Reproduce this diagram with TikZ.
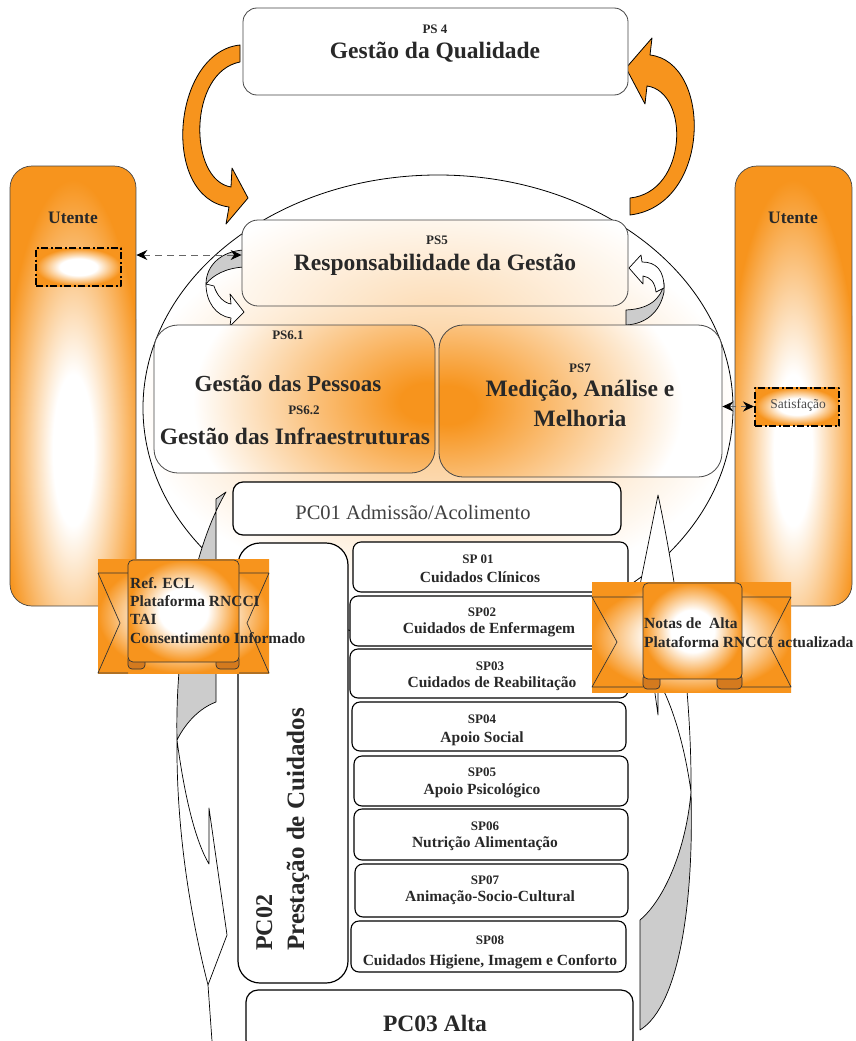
\documentclass[tikz,border=0pt]{standalone}
\usepackage{fontspec}
\setmainfont{Liberation Serif}
\usetikzlibrary{arrows.meta}
\definecolor{orng}{RGB}{247,148,29}
\definecolor{orngdk}{RGB}{212,122,30}
\definecolor{txt}{RGB}{40,40,40}
\definecolor{band}{RGB}{204,204,204}
\definecolor{edge}{RGB}{70,70,70}
\colorlet{orngsoft}{orng!60!white}
\colorlet{orngfaint}{orng!35!white}
% radial glows: the path outline sits at 25bp
\pgfdeclareradialshading{glowA}{\pgfpoint{0bp}{0bp}}{color(0bp)=(orng); color(3bp)=(orng); color(25bp)=(white); color(50bp)=(white)}
\pgfdeclareradialshading{glowB}{\pgfpoint{0bp}{0bp}}{color(0bp)=(orngsoft); color(25bp)=(white); color(50bp)=(white)}
\pgfdeclareradialshading{glowC}{\pgfpoint{0bp}{0bp}}{color(0bp)=(orngfaint); color(25bp)=(white); color(50bp)=(white)}
\pgfdeclareradialshading{core}{\pgfpoint{0bp}{0bp}}{color(0bp)=(white); color(7bp)=(white); color(25bp)=(orng); color(50bp)=(orng)}
\pgfdeclareradialshading{coreR}{\pgfpoint{0bp}{0bp}}{color(0bp)=(white); color(11bp)=(white); color(25bp)=(orng); color(50bp)=(orng)}
\newcommand\fsz[1]{\fontsize{#1}{#1}\selectfont}
\tikzset{
  lbl/.style={text=txt, inner sep=0pt},
  psbox/.style={draw=edge, line width=0.8pt, inner sep=0pt},
  pcbox/.style={draw=black, line width=1.2pt, fill=white, inner sep=0pt},
  spbox/.style={draw=black, line width=1.1pt, fill=white, rounded corners=8pt, inner sep=0pt},
  panel/.style={draw=edge, line width=0.7pt, rounded corners=22pt, inner sep=0pt},
  dashbox/.style={draw=black, line width=2pt, dash pattern=on 7pt off 2.5pt on 2pt off 2.5pt,
    shade, shading=coreR, inner sep=0pt},
  fatarrow/.style={fill=orng, draw=black, line width=0.8pt},
  curl/.style={draw=black, line width=0.7pt},
  dconn/.style={draw=gray!80!black, line width=1pt, dash pattern=on 7pt off 5pt,
    {Stealth[length=11pt,width=10pt,color=black]}-{Stealth[length=11pt,width=10pt,color=black]}},
  ribbon/.style={draw=black!80, line width=0.7pt},
  sptag/.style={lbl, font=\fsz{13}\bfseries},
  sptitle/.style={lbl, font=\fsz{15.5}\bfseries},
  bantext/.style={lbl, font=\fsz{15.5}\bfseries, anchor=west}
}
\begin{document}
\begin{tikzpicture}[x=1pt,y=-1pt,line join=round]
\useasboundingbox (0,0) rectangle (856,1041);
\fill[white] (0,0) rectangle (856,1041);

% central ellipse with its soft glow
\begin{scope}
  \clip (438,408) ellipse [x radius=295, y radius=233];
  \shade[shading=glowB] (437,405) ellipse [x radius=300, y radius=190];
\end{scope}
\draw[line width=0.8pt] (438,408) ellipse [x radius=295, y radius=233];

% orange loop arrows around PS4
\filldraw[fatarrow]
  (240,45) .. controls (172,52) and (160,198) .. (229,207)
  -- (226,224) -- (248,198) -- (232,168) -- (231,187)
  .. controls (188,180) and (188,72) .. (240,62) -- cycle;
\filldraw[fatarrow]
  (630,215) .. controls (712,205) and (712,62) .. (650,55)
  -- (652,38) -- (626,68) -- (645,104) -- (647,86)
  .. controls (690,92) and (688,192) .. (630,198) -- cycle;

% PS4
\node[psbox, rounded corners=14pt, fill=white, minimum width=385pt, minimum height=87pt] (ps4) at (435.5,51.5) {};
\node[lbl, font=\fsz{13}\bfseries] (ps4id) at (435,29) {PS 4};
\node[lbl, font=\fsz{23.5}\bfseries] (ps4t) at (435,52) {Gestão da Qualidade};

% small curled arrows beside PS5
\filldraw[curl, fill=band] (244,250) .. controls (222,251) and (206,265) .. (206,284)
  .. controls (213,275) and (226,268) .. (244,267) -- cycle;
\filldraw[curl, fill=white] (206,284) .. controls (206,302) and (216,316) .. (231,318)
  -- (230,326) -- (244,312) -- (230,294) -- (231,304)
  .. controls (224,303) and (217,296) .. (214,286) -- cycle;
\filldraw[curl, fill=band] (626,310) .. controls (648,309) and (661,300) .. (664,283)
  -- (664,292) .. controls (660,312) and (646,324) .. (626,325) -- cycle;
\filldraw[curl, fill=white] (664,288) .. controls (664,270) and (656,262) .. (642,262)
  -- (641,255) -- (629,268) -- (643,284) -- (643,276)
  .. controls (650,277) and (655,282) .. (656,292) -- cycle;

% PS5
\begin{scope}
  \clip[rounded corners=16pt] (242,220) rectangle (628,306);
  \fill[white] (242,220) rectangle (628,306);
  \shade[shading=glowC] (437,320) ellipse [x radius=260, y radius=130];
\end{scope}
\node[psbox, rounded corners=16pt, minimum width=386pt, minimum height=86pt] (ps5) at (435,263) {};
\node[lbl, font=\fsz{13}\bfseries] (ps5id) at (437,240) {PS5};
\node[lbl, font=\fsz{23.5}\bfseries] (ps5t) at (435,265) {Responsabilidade da Gestão};

% PS6 and PS7
\begin{scope}
  \clip[rounded corners=24pt] (154,325) rectangle (435,473);
  \fill[white] (154,325) rectangle (435,473);
  \shade[shading=glowA] (428,402) ellipse [x radius=235, y radius=160];
\end{scope}
\node[psbox, rounded corners=24pt, minimum width=281pt, minimum height=148pt] (ps6) at (294.5,399) {};
\begin{scope}
  \clip[rounded corners=24pt] (439,325) rectangle (722,477);
  \fill[white] (439,325) rectangle (722,477);
  \shade[shading=glowA] (448,405) ellipse [x radius=235, y radius=160];
\end{scope}
\node[psbox, rounded corners=24pt, minimum width=283pt, minimum height=152pt] (ps7) at (580.5,401) {};
\node[lbl, font=\fsz{13}\bfseries] (ps61) at (288,335) {PS6.1};
\node[lbl, font=\fsz{23}\bfseries] (ps61t) at (288,384) {Gestão das Pessoas};
\node[lbl, font=\fsz{13}\bfseries] (ps62) at (304,410) {PS6.2};
\node[lbl, font=\fsz{23.5}\bfseries] (ps62t) at (295,436) {Gestão das Infraestruturas};
\node[lbl, font=\fsz{13}\bfseries] (ps7id) at (580,368) {PS7};
\node[lbl, font=\fsz{23.5}\bfseries] (ps7a) at (580,391) {Medição, Análise e};
\node[lbl, font=\fsz{23.5}\bfseries] (ps7b) at (580,418) {Melhoria};

% cycle arrows around the care processes
\filldraw[curl, fill=band]
  (226,492) .. controls (192,550) and (175,650) .. (177,740)
  .. controls (186,722) and (200,708) .. (216,702) -- (216,499) -- cycle;
\filldraw[curl, fill=white]
  (177,740) .. controls (185,800) and (196,842) .. (209,864) -- (209,808)
  -- (227,935) -- (208,985) .. controls (194,930) and (176,840) .. (177,740) -- cycle;
\draw[curl] (208,985) -- (212,1041);
\filldraw[curl, fill=band]
  (640,1030) -- (640,920) .. controls (664,900) and (686,850) .. (691,792)
  .. controls (694,900) and (680,1005) .. (640,1030) -- cycle;
\filldraw[curl, fill=white]
  (691,792) .. controls (684,740) and (670,700) .. (658,680) -- (658,715)
  -- (640,585) -- (658,495) .. controls (672,560) and (692,680) .. (691,792) -- cycle;

% PC01
\node[pcbox, rounded corners=10pt, minimum width=388pt, minimum height=53pt] (pc01) at (427,508.5) {};
\node[lbl, text=black!75, font=\fsz{20.5}] (pc01t) at (413,512) {PC01 Admissão/Acolimento};

% PC02
\node[pcbox, rounded corners=22pt, minimum width=110pt, minimum height=440pt] (pc02) at (293,763) {};
\node[lbl, rotate=90, anchor=north west, align=left, font=\fontsize{25}{32}\selectfont\bfseries]
  (pc02t) at (256,951) {{\fontsize{24}{32}\selectfont PC02}\\Prestação de Cuidados};

% sub-processes
\node[spbox, minimum width=275pt, minimum height=50pt] (sp1) at (490.5,567) {};
\node[spbox, minimum width=278pt, minimum height=50pt] (sp2) at (489,621) {};
\node[spbox, minimum width=278pt, minimum height=49pt] (sp3) at (489,673.5) {};
\node[spbox, minimum width=274pt, minimum height=49pt] (sp4) at (489,726.5) {};
\node[spbox, minimum width=274pt, minimum height=50pt] (sp5) at (491,781) {};
\node[spbox, minimum width=274pt, minimum height=51pt] (sp6) at (491,834.5) {};
\node[spbox, minimum width=273pt, minimum height=53pt] (sp7) at (491.5,890.5) {};
\node[spbox, minimum width=275pt, minimum height=51pt] (sp8) at (488.5,946.5) {};
\node[sptag] (sp1a) at (478,559) {SP 01};
\node[sptitle] (sp1b) at (480,577) {Cuidados Clínicos};
\node[sptag] (sp2a) at (482,612) {SP02};
\node[sptitle] (sp2b) at (489,630) {Cuidados de Enfermagem};
\node[sptag] (sp3a) at (490,666) {SP03};
\node[sptitle] (sp3b) at (492,684) {Cuidados de Reabilitação};
\node[sptag] (sp4a) at (482,719) {SP04};
\node[sptitle] (sp4b) at (482,739) {Apoio Social};
\node[sptag] (sp5a) at (482,772) {SP05};
\node[sptitle] (sp5b) at (482,791) {Apoio Psicológico};
\node[sptag] (sp6a) at (485,826) {SP06};
\node[sptitle] (sp6b) at (485,844) {Nutrição Alimentação};
\node[sptag] (sp7a) at (485,880) {SP07};
\node[sptitle] (sp7b) at (490,898) {Animação-Socio-Cultural};
\node[sptag] (sp8a) at (490,940) {SP08};
\node[sptitle] (sp8b) at (490,962) {Cuidados Higiene, Imagem e Conforto};

% PC03
\node[pcbox, rounded corners=12pt, minimum width=387pt, minimum height=62pt] (pc03) at (439.5,1021) {};
\node[lbl, font=\fsz{23.5}\bfseries] (pc03t) at (435,1023) {PC03 Alta};

% Utente panels
\begin{scope}
  \clip[rounded corners=22pt] (10,166) rectangle (136,606);
  \fill[orng] (10,166) rectangle (136,606);
  \shade[shading=core] (73,450) ellipse [x radius=72, y radius=270];
\end{scope}
\node[panel, minimum width=126pt, minimum height=440pt] (utl) at (73,386) {};
\node[lbl, font=\fsz{17.5}\bfseries] (utlt) at (73,218) {Utente};
\node[dashbox, minimum width=85pt, minimum height=38pt] (ud) at (78.5,267) {};

\begin{scope}
  \clip[rounded corners=22pt] (735,166) rectangle (852,606);
  \fill[orng] (735,166) rectangle (852,606);
  \shade[shading=core] (793,450) ellipse [x radius=68, y radius=270];
\end{scope}
\node[panel, minimum width=117pt, minimum height=440pt] (utr) at (793.5,386) {};
\node[lbl, font=\fsz{17.5}\bfseries] (utrt) at (793,218) {Utente};
\node[dashbox, minimum width=84pt, minimum height=38pt] (sat) at (797,406.5) {};
\node[lbl, text=black!70, font=\fsz{13.5}] (satt) at (798,405) {Satisfação};

% dashed links
\coordinate (rowL) at (0,255);
\draw[dconn] (utl.east |- rowL) -- (ps5.west |- rowL);
\draw[dconn] (ps7.east |- sat.west) -- (sat.west);

% left scroll banner
\shade[shading=coreR] (98,559) rectangle (269,673);
\draw[ribbon] (98,573) -- (128,573) (98,573) -- (120,623) -- (98,673) -- (128,673);
\draw[ribbon] (239,573) -- (269,573) (269,573) -- (247,623) -- (269,673) -- (239,673);
\filldraw[ribbon, fill=orngdk, rounded corners=4pt] (128,655) rectangle (145,669);
\filldraw[ribbon, fill=orngdk, rounded corners=4pt] (216,655) rectangle (239,669);
\node[ribbon, shade, shading=coreR, rounded corners=5pt, minimum width=111pt, minimum height=102pt] (banL) at (183.5,611) {};
\node[bantext] (bl1) at (130,583) {Ref. ECL};
\node[bantext] (bl2) at (130,601) {Plataforma RNCCI};
\node[bantext] (bl3) at (130,619) {TAI};
\node[bantext] (bl4) at (130,638) {Consentimento Informado};

% right scroll banner
\shade[shading=coreR] (592,582) rectangle (791,692);
\draw[ribbon] (592,597) -- (643,597) (592,597) -- (617,642) -- (592,687) -- (643,687);
\draw[ribbon] (742,597) -- (791,597) (791,597) -- (768,642) -- (791,687) -- (742,687);
\filldraw[ribbon, fill=orngdk, rounded corners=4pt] (643,674) rectangle (660,689);
\filldraw[ribbon, fill=orngdk, rounded corners=4pt] (717,674) rectangle (742,689);
\node[ribbon, shade, shading=coreR, rounded corners=5pt, minimum width=99pt, minimum height=96pt] (banR) at (692.5,631) {};
\node[bantext] (br1) at (644,623) {Notas de \ Alta};
\node[bantext] (br2) at (644,642) {Plataforma RNCCI actualizada};
\end{tikzpicture}
\end{document}
